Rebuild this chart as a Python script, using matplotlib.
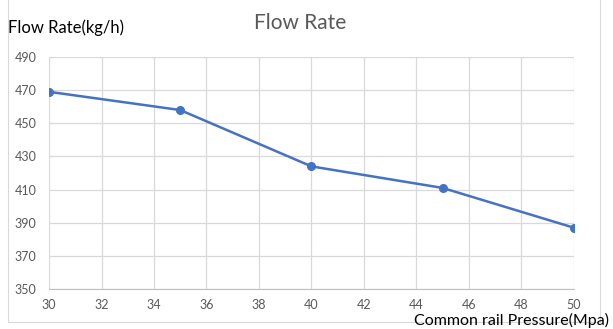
import matplotlib.pyplot as plt
from matplotlib.patches import Rectangle

pressure = [30, 35, 40, 45, 50]
flow_rate = [469, 458, 424, 411, 387]
x_ticks = list(range(30, 51, 2))
y_ticks = list(range(350, 491, 20))

plt.rcParams['font.family'] = ['Lato', 'DejaVu Sans']

fig = plt.figure(figsize=(6.13, 3.29), dpi=100)
ax = fig.add_axes([0.080, 0.1216, 0.856, 0.7051])

ax.plot(pressure, flow_rate, color='#4472C4', linewidth=1.8,
        marker='o', markersize=5.5, zorder=3)

ax.set_xlim(30, 50)
ax.set_ylim(350, 490)
ax.set_xticks(x_ticks)
ax.set_yticks(y_ticks)
ax.grid(True, color='#d9d9d9', linewidth=0.9)
ax.set_axisbelow(True)
for side in ['top', 'right', 'left']:
    ax.spines[side].set_visible(False)
ax.spines['bottom'].set_color('#bfbfbf')
ax.tick_params(axis='y', length=0, labelsize=9, colors='#595959', pad=9)
ax.tick_params(axis='x', length=0, labelsize=9, colors='#595959', pad=7)

# chart title and axis titles like the spreadsheet chart
fig.text(0.49, 0.93, 'Flow Rate', ha='center', va='center',
         fontsize=15, color='#595959')
fig.text(0.013, 0.915, 'Flow Rate(kg/h)', ha='left', va='center',
         fontsize=12, color='#000000')
fig.text(0.993, 0.004, 'Common rail Pressure(Mpa)', ha='right', va='bottom',
         fontsize=11.5, color='#000000')

# chart border
fig.patches.append(Rectangle((0.013, 0.02), 0.966, 0.99, transform=fig.transFigure,
                             fill=False, edgecolor='#d9d9d9', linewidth=0.8))

fig.savefig('out.png', dpi=100)
